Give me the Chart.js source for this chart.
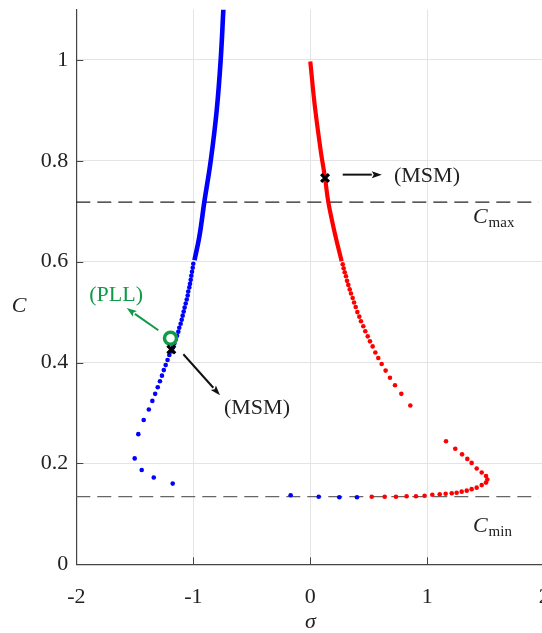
<!DOCTYPE html>
<html>
<head>
<meta charset="utf-8">
<script src="https://cdn.jsdelivr.net/npm/chart.js@4/dist/chart.umd.min.js"></script>
<style>
  html, body { margin: 0; padding: 0; background: #fff; overflow: hidden; }
  #wrap { width: 560px; height: 633px; }
</style>
</head>
<body>
<div id="wrap"><canvas id="chart" width="560" height="633"></canvas></div>
<script>
/* ── data (sigma, C) ───────────────────────────────────────────────────── */
const xTicks = [-2, -1, 0, 1, 2];
const yTicks = [0, 0.2, 0.4, 0.6, 0.8, 1];

// dense part of the blue branch (dots merge into a line)
const blueLine = [
  [-0.743, 1.10], [-0.766, 1.00], [-0.800, 0.90], [-0.851, 0.80],
  [-0.906, 0.718], [-0.948, 0.65], [-0.990, 0.603],
];
// separated blue dots
const blueDots = [
  [-1.000, 0.596], [-1.005, 0.588], [-1.011, 0.580], [-1.017, 0.572],
  [-1.022, 0.564], [-1.028, 0.556], [-1.034, 0.549], [-1.043, 0.541],
  [-1.048, 0.533], [-1.056, 0.525], [-1.065, 0.517], [-1.074, 0.509],
  [-1.082, 0.501], [-1.091, 0.493], [-1.099, 0.485], [-1.108, 0.477],
  [-1.120, 0.469], [-1.128, 0.461], [-1.139, 0.453], [-1.150, 0.446],
  [-1.162, 0.438], [-1.174, 0.430], [-1.185, 0.422], [-1.205, 0.415],
  [-1.220, 0.405], [-1.236, 0.395], [-1.252, 0.385], [-1.268, 0.374],
  [-1.285, 0.363], [-1.304, 0.351], [-1.326, 0.338], [-1.350, 0.324],
  [-1.380, 0.307], [-1.424, 0.286], [-1.470, 0.258], [-1.501, 0.210],
  [-1.441, 0.187], [-1.338, 0.172], [-1.176, 0.160],
  [-0.168, 0.137], [0.072, 0.134], [0.248, 0.133], [0.399, 0.133],
];

// dense part of the red branch
const redLine = [
  [0.000, 0.997], [0.040, 0.906], [0.089, 0.820], [0.126, 0.766],
  [0.154, 0.718], [0.211, 0.655], [0.268, 0.601],
];
// separated red dots
const redDots = [
  [0.277, 0.595], [0.285, 0.587], [0.294, 0.579], [0.305, 0.571],
  [0.314, 0.562], [0.325, 0.554], [0.337, 0.545], [0.348, 0.537],
  [0.362, 0.528], [0.374, 0.519], [0.388, 0.510], [0.402, 0.500],
  [0.419, 0.491], [0.433, 0.482], [0.453, 0.472], [0.470, 0.462],
  [0.491, 0.452], [0.510, 0.442], [0.533, 0.432], [0.556, 0.420],
  [0.581, 0.409], [0.610, 0.397], [0.644, 0.384], [0.681, 0.370],
  [0.724, 0.355], [0.778, 0.338], [0.855, 0.315],
  [0.525, 0.134], [0.636, 0.134], [0.732, 0.134], [0.823, 0.135],
  [0.903, 0.135], [0.977, 0.136], [1.043, 0.138], [1.106, 0.139],
  [1.157, 0.140], [1.209, 0.141], [1.251, 0.142], [1.294, 0.144],
  [1.337, 0.146], [1.379, 0.149], [1.422, 0.152], [1.465, 0.157],
  [1.502, 0.162], [1.513, 0.168], [1.502, 0.175], [1.465, 0.182],
  [1.422, 0.190], [1.379, 0.201], [1.342, 0.209], [1.297, 0.218],
  [1.239, 0.229], [1.160, 0.244],
];

const msmPoints = [[0.126, 0.766], [-1.188, 0.426]];
const pllPoint = [[-1.195, 0.448]];

const cMax = 0.718;
const cMin = 0.134;

/* ── annotations (data units) ──────────────────────────────────────────── */
const GREEN = "#119a48";
const arrows = [
  { from: [0.277, 0.7726], to: [0.611, 0.7726], color: "#111" },
  { from: [-1.085, 0.4164], to: [-0.772, 0.3352], color: "#111" },
  { from: [-1.299, 0.464], to: [-1.569, 0.508], color: GREEN },
];
const labels = [
  { text: "(MSM)", at: [0.715, 0.769], align: "left", color: "#222" },
  { text: "(MSM)", at: [-0.738, 0.309], align: "left", color: "#222" },
  { text: "(PLL)", at: [-1.66, 0.533], align: "center", color: GREEN },
];
const subLabels = [
  { main: "C", sub: "max", at: [1.39, 0.676] },
  { main: "C", sub: "min", at: [1.39, 0.064] },
];

/* ══════════════════════════════════════════════════════════════════════════
   HELPERS
══════════════════════════════════════════════════════════════════════════ */
const SERIF = "'Liberation Serif', 'DejaVu Serif', serif";
const toXY = (arr) => arr.map(([x, y]) => ({ x, y }));

function drawArrow(c, x0, y0, x1, y1, color) {
  const ang = Math.atan2(y1 - y0, x1 - x0);
  const headLen = 10, headW = 3.5;
  const bx = x1 - headLen * Math.cos(ang);
  const by = y1 - headLen * Math.sin(ang);
  c.save();
  c.strokeStyle = color;
  c.fillStyle = color;
  c.lineWidth = 2;
  c.beginPath();
  c.moveTo(x0, y0);
  c.lineTo(bx, by);
  c.stroke();
  c.beginPath();
  c.moveTo(x1, y1);
  c.lineTo(bx + headW * Math.sin(ang), by - headW * Math.cos(ang));
  c.lineTo(bx + 2 * Math.cos(ang), by + 2 * Math.sin(ang));
  c.lineTo(bx - headW * Math.sin(ang), by + headW * Math.cos(ang));
  c.closePath();
  c.fill();
  c.restore();
}

// drop the automatic label-overflow padding so the plot area is fixed
function noPad(s) {
  s.paddingTop = 0;
  s.paddingBottom = 0;
  s.paddingLeft = 0;
  s.paddingRight = 0;
}

const overlay = {
  id: "overlay",
  afterDraw(chart) {
    const c = chart.ctx;
    const xs = chart.scales.x, ys = chart.scales.y;
    const area = chart.chartArea;

    // inward tick marks
    c.save();
    c.strokeStyle = "#444";
    c.lineWidth = 1;
    xTicks.forEach((v) => {
      const px = Math.round(xs.getPixelForValue(v)) + 0.5;
      c.beginPath();
      c.moveTo(px, area.bottom);
      c.lineTo(px, area.bottom - 7);
      c.stroke();
    });
    yTicks.forEach((v) => {
      const py = Math.round(ys.getPixelForValue(v)) + 0.5;
      c.beginPath();
      c.moveTo(area.left, py);
      c.lineTo(area.left + 7, py);
      c.stroke();
    });
    c.restore();

    // arrows
    arrows.forEach((a) =>
      drawArrow(
        c,
        xs.getPixelForValue(a.from[0]), ys.getPixelForValue(a.from[1]),
        xs.getPixelForValue(a.to[0]), ys.getPixelForValue(a.to[1]),
        a.color,
      ),
    );

    // text labels
    c.save();
    c.textBaseline = "middle";
    c.font = `22px ${SERIF}`;
    labels.forEach((l) => {
      c.fillStyle = l.color;
      c.textAlign = l.align;
      c.fillText(l.text, xs.getPixelForValue(l.at[0]), ys.getPixelForValue(l.at[1]));
    });

    c.textBaseline = "alphabetic";
    c.textAlign = "left";
    c.fillStyle = "#222";
    subLabels.forEach((l) => {
      const px = xs.getPixelForValue(l.at[0]);
      const py = ys.getPixelForValue(l.at[1]);
      c.font = `italic 22px ${SERIF}`;
      c.fillText(l.main, px, py);
      const w = c.measureText(l.main).width;
      c.font = `15px ${SERIF}`;
      c.fillText(l.sub, px + w + 1, py + 4);
    });

    // axis titles
    c.font = `italic 22px ${SERIF}`;
    c.textAlign = "center";
    c.fillText("\u03c3", (area.left + area.right) / 2, 628);
    c.fillText("C", 19, 312);
    c.restore();
  },
};

/* ══════════════════════════════════════════════════════════════════════════
   CHART
══════════════════════════════════════════════════════════════════════════ */
const tickFont = { family: SERIF, size: 22 };

new Chart(document.getElementById("chart"), {
  type: "scatter",
  data: {
    datasets: [
      {
        data: toXY(msmPoints),
        pointStyle: "crossRot",
        pointRadius: 5.5,
        borderColor: "#000",
        borderWidth: 3.2,
        order: 0,
      },
      {
        data: toXY(pllPoint),
        pointStyle: "circle",
        pointRadius: 6,
        borderColor: GREEN,
        backgroundColor: "#fff",
        borderWidth: 3.5,
        order: 1,
      },
      {
        data: toXY(blueDots),
        pointRadius: 2.3,
        backgroundColor: "#0000ff",
        borderWidth: 0,
        order: 2,
      },
      {
        data: toXY(redDots),
        pointRadius: 2.3,
        backgroundColor: "#ff0000",
        borderWidth: 0,
        order: 2,
      },
      {
        data: toXY(blueLine),
        showLine: true,
        pointRadius: 0,
        borderColor: "#0000ff",
        borderWidth: 4.6,
        tension: 0.4,
        order: 3,
      },
      {
        data: toXY(redLine),
        showLine: true,
        pointRadius: 0,
        borderColor: "#ff0000",
        borderWidth: 4.2,
        tension: 0.4,
        order: 3,
      },
      {
        data: [{ x: -2, y: cMax }, { x: 1.95, y: cMax }],
        showLine: true,
        pointRadius: 0,
        borderColor: "#222",
        borderWidth: 1.2,
        borderDash: [14, 7],
        order: 5,
      },
      {
        data: [{ x: -2, y: cMin }, { x: 1.95, y: cMin }],
        showLine: true,
        pointRadius: 0,
        borderColor: "#666",
        borderWidth: 1.3,
        borderDash: [14, 7],
        order: 5,
      },
    ],
  },
  options: {
    responsive: false,
    animation: false,
    layout: { padding: { top: 8.5, right: 15.7, left: 0, bottom: 0 } },
    plugins: { legend: { display: false }, tooltip: { enabled: false } },
    scales: {
      x: {
        type: "linear",
        min: -2,
        max: 2,
        afterBuildTicks: (s) => { s.ticks = xTicks.map((v) => ({ value: v })); },
        afterFit: (s) => { s.height = 68.7; noPad(s); },
        ticks: {
          font: tickFont,
          color: "#222",
          padding: 20,
          maxRotation: 0,
          callback: (v) => String(v),
        },
        grid: { color: "#e4e4e4", drawTicks: false },
        border: { color: "#444", width: 1.2 },
      },
      y: {
        type: "linear",
        min: 0,
        max: 1.1,
        afterBuildTicks: (s) => { s.ticks = yTicks.map((v) => ({ value: v })); },
        afterFit: (s) => { s.width = 76.3; noPad(s); },
        ticks: {
          font: tickFont,
          color: "#222",
          padding: 8,
          callback: (v) => String(v),
        },
        grid: { color: "#e4e4e4", drawTicks: false },
        border: { color: "#444", width: 1.2 },
      },
    },
  },
  plugins: [overlay],
});
</script>
</body>
</html>
